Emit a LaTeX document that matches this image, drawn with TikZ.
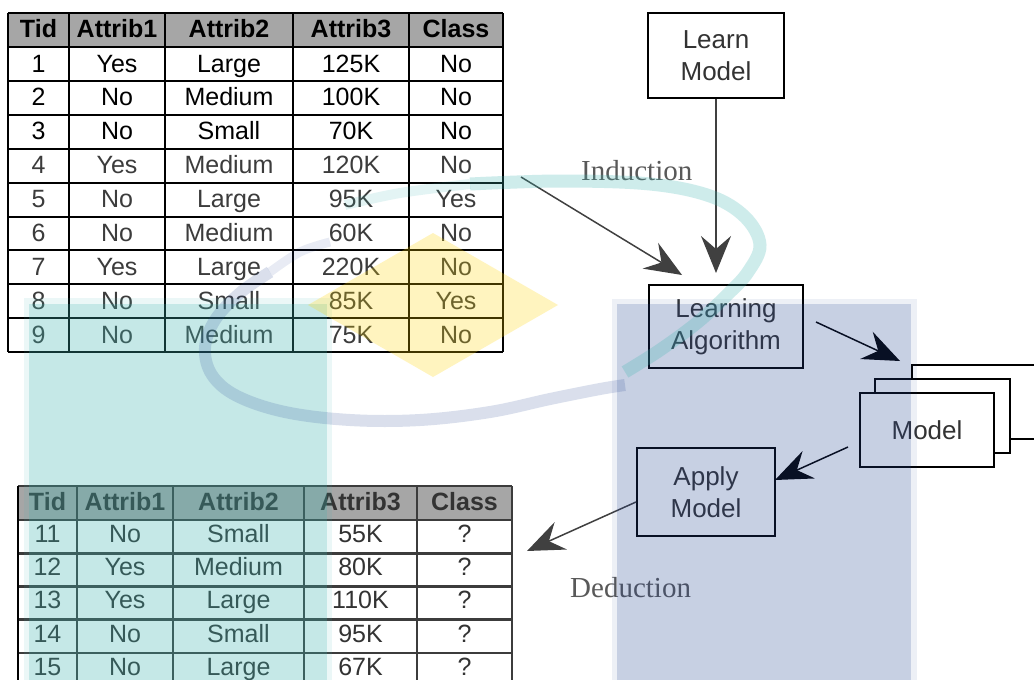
\documentclass[tikz,border=0pt]{standalone}
\usepackage{fontspec}
\setmainfont{Liberation Sans}
\newfontfamily\lblfont{Liberation Serif}
\usetikzlibrary{arrows.meta}
\definecolor{wmteal}{RGB}{62,182,178}
\definecolor{wmblue}{RGB}{36,68,148}
\definecolor{wmyellow}{RGB}{255,215,0}
\definecolor{hdrgray}{RGB}{166,166,166}
\definecolor{txtgray}{RGB}{51,51,51}
\definecolor{arrgray}{RGB}{64,64,64}
\definecolor{lblgray}{RGB}{89,89,89}
\definecolor{rowgray}{RGB}{60,60,60}
\begin{document}
\begin{tikzpicture}[x=1pt,y=-1pt,
  cell/.style={font=\fontsize{25}{28}\selectfont, inner sep=0pt, anchor=base},
  hcell/.style={font=\bfseries\fontsize{25}{28}\selectfont, inner sep=0pt, anchor=base},
  toprule/.style={draw=black, line width=2pt},
  botrule/.style={draw=rowgray, line width=2.6pt},
  box/.style={draw=black, line width=1.8pt, fill=white, align=center, inner sep=0pt,
    font=\fontsize{26}{32}\selectfont, text=txtgray},
  arr/.style={draw=arrgray, line width=1.5pt, -{Stealth[length=37pt,width=30pt,inset=13pt]}},
  darr/.style={arr, draw=black},
  lbl/.style={font=\lblfont\fontsize{29}{34}\selectfont, text=lblgray, inner sep=0pt, anchor=base west}
]
\useasboundingbox (0,0) rectangle (1034,680);
\clip (0,0) rectangle (1034,680);
\fill[white] (0,0) rectangle (1034,680);

% ---------- top table ----------
\fill[hdrgray] (8,13) rectangle (503,47);
\foreach \k in {0,...,9} \draw[toprule] (8,{47+\k*33.9}) -- (503,{47+\k*33.9});
\draw[toprule] (8,13) -- (503,13);
\foreach \x in {8,69,165,293,409,503} \draw[toprule] (\x,13) -- (\x,352);
\node[hcell] (h1) at (38.5,37) {Tid};
\node[hcell] (h2) at (117,37) {Attrib1};
\node[hcell] (h3) at (229,37) {Attrib2};
\node[hcell] (h4) at (351,37) {Attrib3};
\node[hcell] (h5) at (456,37) {Class};
\foreach \r/\col/\a/\b/\c/\d/\e in {
  1/black/1/Yes/Large/125K/No,
  2/black/2/No/Medium/100K/No,
  3/black/3/No/Small/70K/No,
  4/rowgray/4/Yes/Medium/120K/No,
  5/rowgray/5/No/Large/95K/Yes,
  6/rowgray/6/No/Medium/60K/No,
  7/rowgray/7/Yes/Large/220K/No,
  8/rowgray/8/No/Small/85K/Yes,
  9/rowgray/9/No/Medium/75K/No}{
  \node[cell,text=\col] (t-\r-1) at (38.5,{47+(\r-1)*33.9+25}) {\a};
  \node[cell,text=\col] (t-\r-2) at (117,{47+(\r-1)*33.9+25}) {\b};
  \node[cell,text=\col] (t-\r-3) at (229,{47+(\r-1)*33.9+25}) {\c};
  \node[cell,text=\col] (t-\r-4) at (351,{47+(\r-1)*33.9+25}) {\d};
  \node[cell,text=\col] (t-\r-5) at (456,{47+(\r-1)*33.9+25}) {\e};
}

% ---------- bottom table ----------
\fill[hdrgray] (18,486) rectangle (512,520);
\foreach \k in {0,...,5} \draw[botrule] (18,{520+\k*33.2}) -- (512,{520+\k*33.2});
\draw[botrule] (18,486) -- (512,486);
\foreach \x in {77,173,304,417,512} \draw[botrule] (\x,486) -- (\x,690);
\draw[draw=black, line width=2.6pt] (18,486) -- (18,690);
\node[hcell,text=txtgray] (g1) at (47.5,510) {Tid};
\node[hcell,text=txtgray] (g2) at (125,510) {Attrib1};
\node[hcell,text=txtgray] (g3) at (238.5,510) {Attrib2};
\node[hcell,text=txtgray] (g4) at (360.5,510) {Attrib3};
\node[hcell,text=txtgray] (g5) at (464.5,510) {Class};
\foreach \r/\a/\b/\c/\d/\e in {
  1/11/No/Small/55K/?,
  2/12/Yes/Medium/80K/?,
  3/13/Yes/Large/110K/?,
  4/14/No/Small/95K/?,
  5/15/No/Large/67K/?}{
  \node[cell,text=txtgray] (u-\r-1) at (47.5,{520+(\r-1)*33.2+22.5}) {\a};
  \node[cell,text=txtgray] (u-\r-2) at (125,{520+(\r-1)*33.2+22.5}) {\b};
  \node[cell,text=txtgray] (u-\r-3) at (238.5,{520+(\r-1)*33.2+22.5}) {\c};
  \node[cell,text=txtgray] (u-\r-4) at (360.5,{520+(\r-1)*33.2+22.5}) {\d};
  \node[cell,text=txtgray] (u-\r-5) at (464.5,{520+(\r-1)*33.2+22.5}) {\e};
}

% ---------- boxes ----------
\node[box, minimum width=136pt, minimum height=85pt] (LM) at (716,55.5) {Learn\\Model};
\node[box, minimum width=154pt, minimum height=83pt] (LA) at (726,326.5) {Learning\\Algorithm};
\node[box, minimum width=135pt, minimum height=74pt] (Mback) at (979.5,402) {};
\node[box, minimum width=135pt, minimum height=74pt] (Mmid) at (942.5,416) {};
\node[box, minimum width=134pt, minimum height=74pt] (M) at (927,430) {Model};
\node[box, minimum width=138pt, minimum height=88pt] (AM) at (706,492) {Apply\\Model};

% ---------- labels ----------
\node[lbl] (ind) at (581,180) {Induction};
\node[lbl] (ded) at (570,597) {Deduction};

% ---------- connectors ----------
\coordinate (i1) at (521,177);
\coordinate (i2) at (682,275);
\coordinate (lm2) at (716,273);
\coordinate (m1) at (816,322);
\coordinate (m2) at (900,361);
\coordinate (a1) at (848,447);
\coordinate (a2) at (775,480);
\coordinate (d1) at (636,502);
\coordinate (d2) at (527,551);
\draw[arr] (i1) -- (i2);
\draw[arr] (LM.south) -- (lm2);
\draw[darr] (m1) -- (m2);
\draw[darr] (a1) -- (a2);
\draw[arr] (d1) -- (d2);

% ---------- watermark overlay ----------
\fill[wmteal, opacity=0.1] (24,298) rectangle (332,690);
\fill[wmteal, opacity=0.22] (29,304) rectangle (327,690);
\fill[wmblue, opacity=0.08] (612,299) rectangle (917,690);
\fill[wmblue, opacity=0.185] (617,304) rectangle (911,690);
\fill[wmyellow, opacity=0.25] (433,233) -- (558,305) -- (433,377) -- (308,305) -- cycle;
\draw[wmteal, opacity=0.14, line width=10pt]
  plot[smooth, tension=0.6] coordinates {(345,205) (400,193) (470,184)};
\draw[wmteal, opacity=0.25, line width=13pt]
  plot[smooth, tension=0.6] coordinates {(470,184) (560,181) (650,184) (710,196) (745,217) (760,245) (748,272) (728,294) (698,322) (660,350) (625,372)};
\draw[wmblue, opacity=0.1, line width=9pt]
  plot[smooth, tension=0.6] coordinates {(330,242) (300,252) (270,272)};
\draw[wmblue, opacity=0.17, line width=12pt]
  plot[smooth, tension=0.6] coordinates {(270,272) (240,293) (215,320) (205,348) (212,375) (237,396) (285,412) (350,420) (420,420) (490,412) (550,399) (600,389) (625,385)};
\end{tikzpicture}
\end{document}
